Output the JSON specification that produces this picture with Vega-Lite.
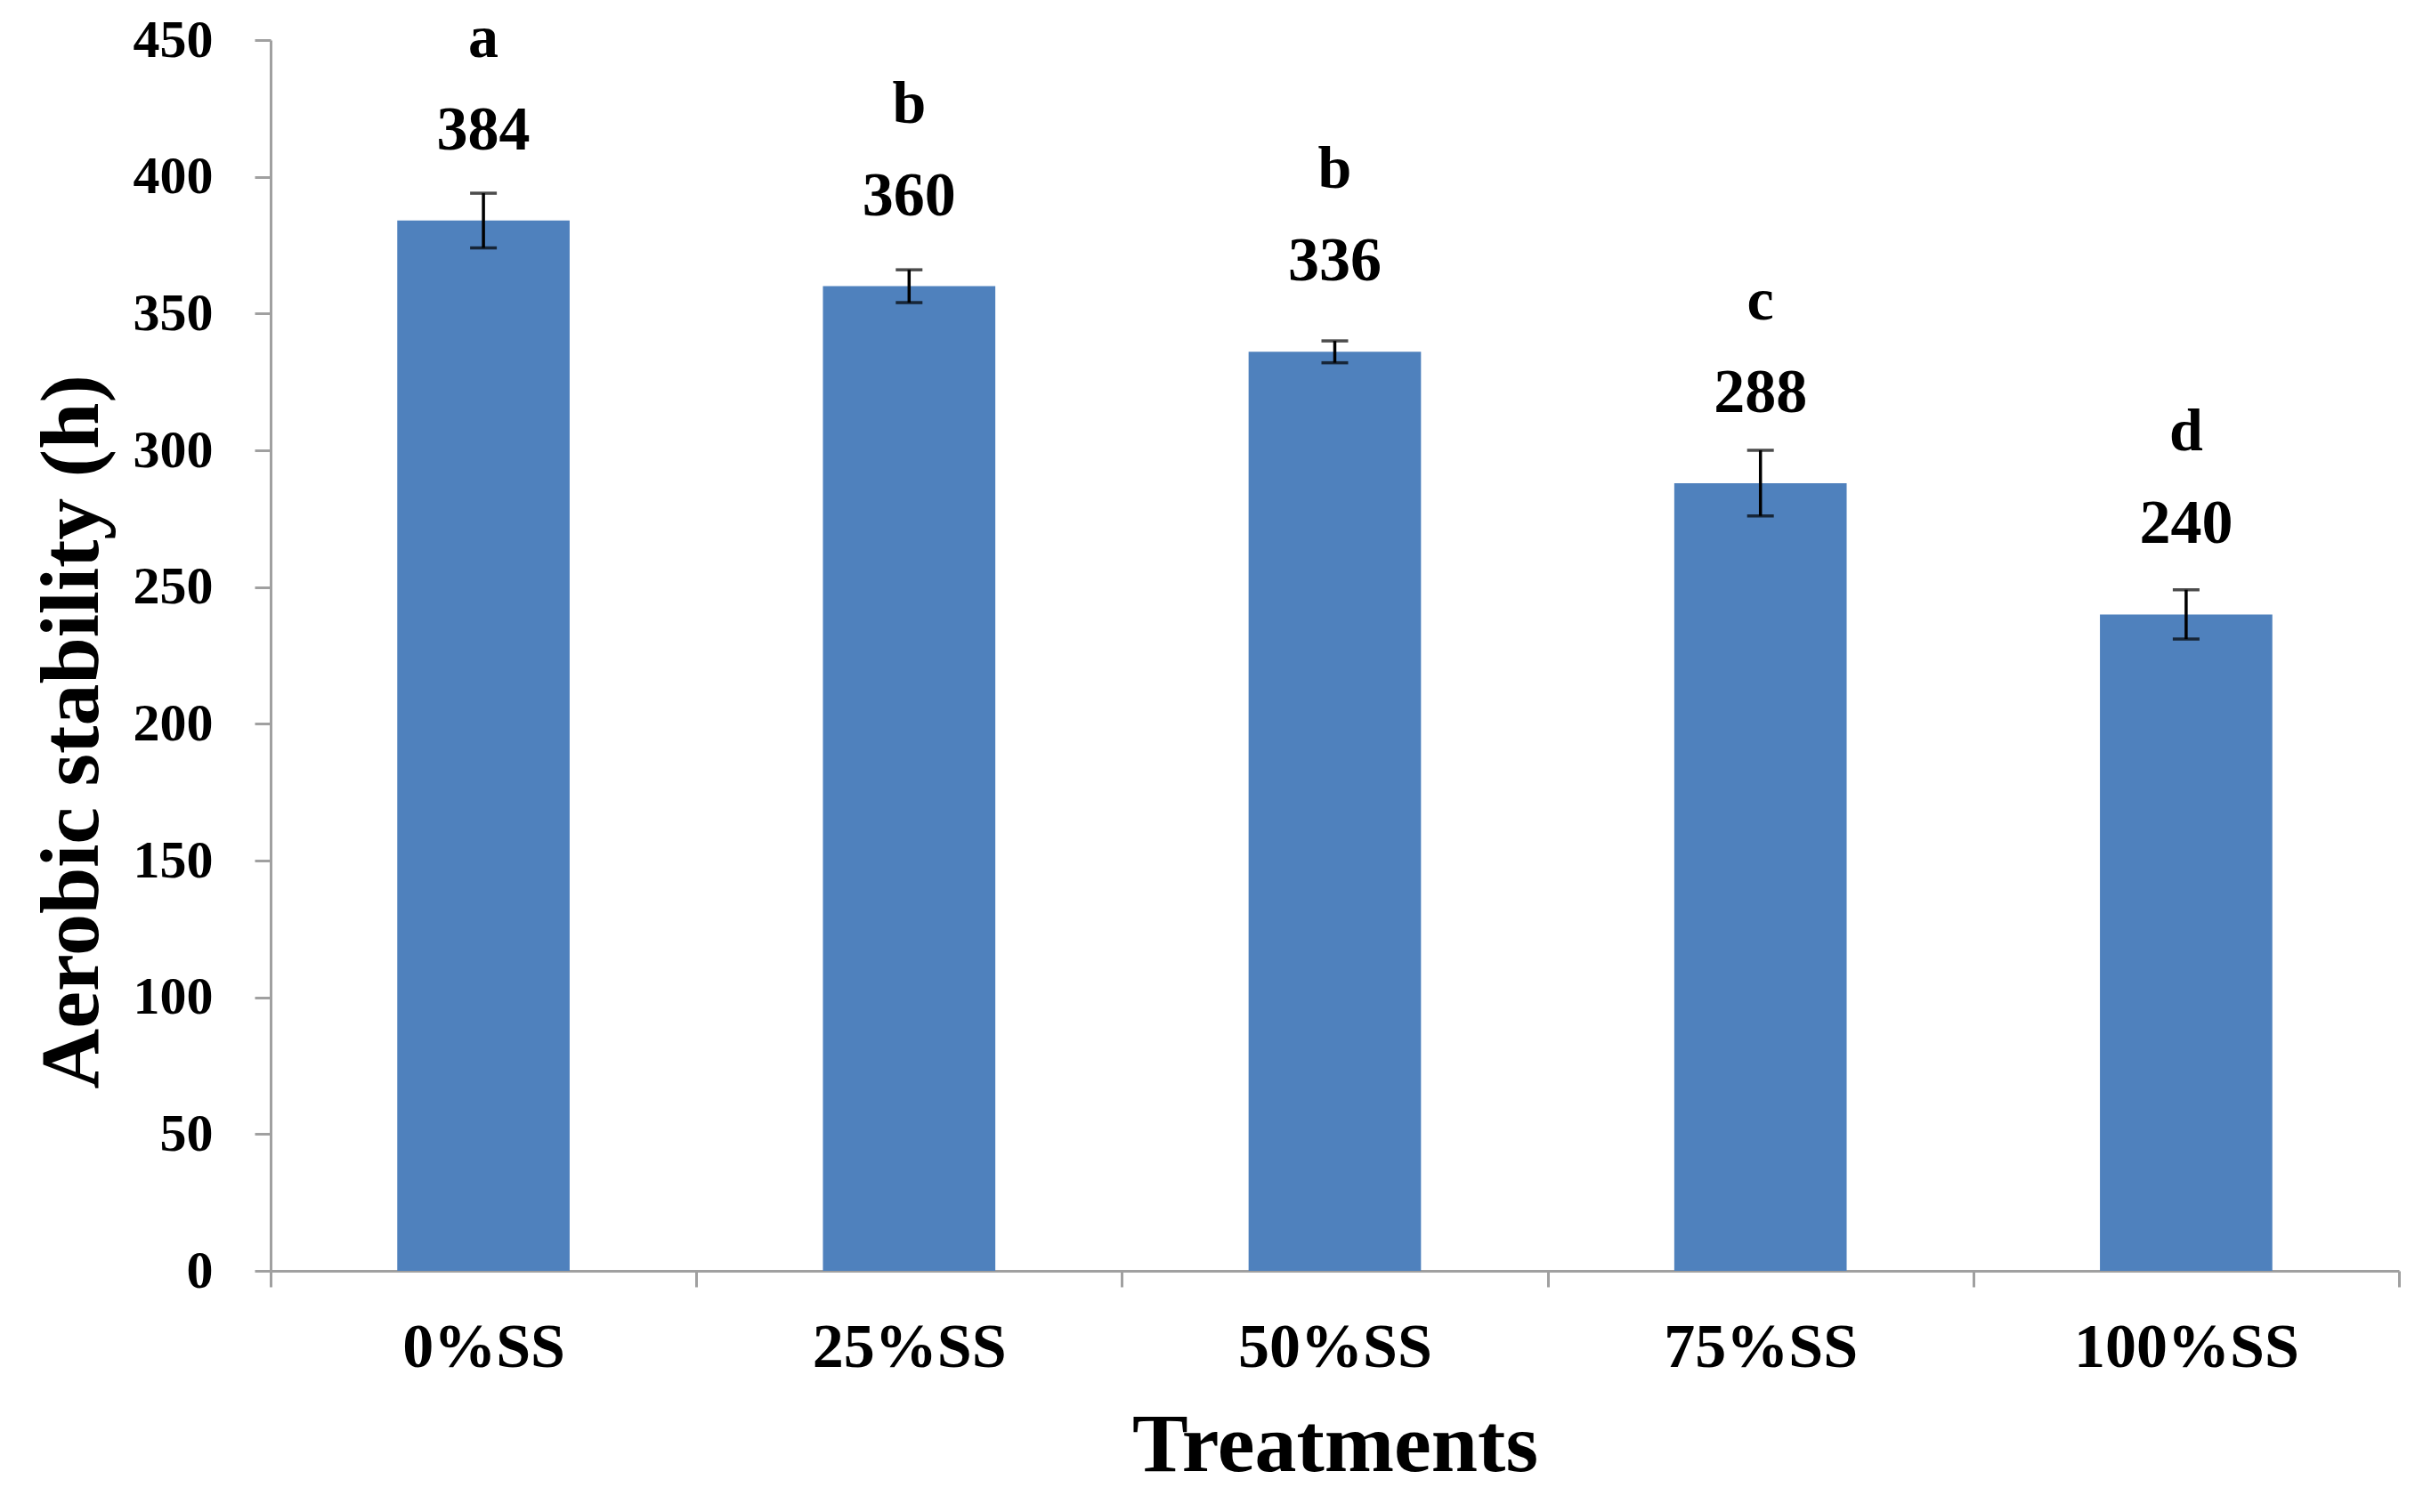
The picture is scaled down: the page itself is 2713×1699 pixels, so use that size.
{
  "$schema": "https://vega.github.io/schema/vega-lite/v6.json",
  "autosize": {"type": "none"},
  "padding": {"left": 304, "top": 45, "right": 18, "bottom": 271},
  "width": 2391,
  "height": 1383,
  "background": "white",
  "config": {"view": {"stroke": null}},
  "data": {
    "values": [
      {"treatment": "0%SS", "value": 384, "err": 10, "letter": "a"},
      {"treatment": "25%SS", "value": 360, "err": 6, "letter": "b"},
      {"treatment": "50%SS", "value": 336, "err": 4, "letter": "b"},
      {"treatment": "75%SS", "value": 288, "err": 12, "letter": "c"},
      {"treatment": "100%SS", "value": 240, "err": 9, "letter": "d"}
    ]
  },
  "encoding": {
    "x": {
      "field": "treatment",
      "type": "nominal",
      "sort": null,
      "title": "Treatments",
      "scale": {"paddingInner": 0, "paddingOuter": 0},
      "axis": {
        "tickBand": "extent",
        "labelAngle": 0,
        "labelLimit": 0,
        "labelFont": "Liberation Serif",
        "labelFontWeight": "bold",
        "labelFontSize": 70,
        "labelColor": "black",
        "labelBaseline": "alphabetic",
        "labelPadding": 89,
        "domainColor": "#a0a0a0",
        "domainWidth": 3,
        "tickColor": "#a0a0a0",
        "tickWidth": 3,
        "tickSize": 18,
        "titleFont": "Liberation Serif",
        "titleFontWeight": "bold",
        "titleFontSize": 94,
        "titleColor": "black",
        "titleBaseline": "alphabetic",
        "titleY": 224,
        "grid": false
      }
    },
    "y": {
      "field": "value",
      "type": "quantitative",
      "title": "Aerobic stability  (h)",
      "scale": {"domain": [0, 450], "nice": false},
      "axis": {
        "values": [0, 50, 100, 150, 200, 250, 300, 350, 400, 450],
        "labelFont": "Liberation Serif",
        "labelFontWeight": "bold",
        "labelFontSize": 60,
        "labelColor": "black",
        "labelPadding": 47,
        "domainColor": "#a0a0a0",
        "domainWidth": 3,
        "tickColor": "#a0a0a0",
        "tickWidth": 3,
        "tickSize": 18,
        "titleFont": "Liberation Serif",
        "titleFontWeight": "bold",
        "titleFontSize": 94,
        "titleColor": "black",
        "titleBaseline": "alphabetic",
        "titleAlign": "center",
        "titleX": -195,
        "titleY": 777,
        "grid": false
      }
    }
  },
  "layer": [
    {"mark": {"type": "bar", "color": "#4F81BD", "width": {"band": 0.405}}},
    {
      "mark": {"type": "errorbar", "ticks": true, "size": 30, "thickness": 3.5, "color": "black"},
      "encoding": {"yError": {"field": "err"}}
    },
    {
      "mark": {"type": "text", "font": "Liberation Serif", "fontWeight": "bold", "fontSize": 70, "color": "black", "baseline": "alphabetic", "dy": -80},
      "encoding": {"text": {"field": "value", "type": "quantitative"}}
    },
    {
      "mark": {"type": "text", "font": "Liberation Serif", "fontWeight": "bold", "fontSize": 68, "color": "black", "baseline": "alphabetic", "dy": -184},
      "encoding": {"text": {"field": "letter", "type": "nominal"}}
    }
  ]
}
